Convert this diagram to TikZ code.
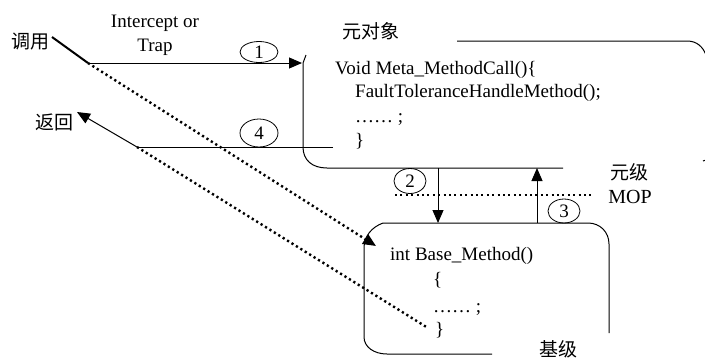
\documentclass[tikz,border=0pt]{standalone}
\usepackage{fontspec}
\setmainfont{Liberation Serif}
\newfontfamily\cjk{Noto Sans CJK SC}
\usetikzlibrary{arrows.meta,shapes.geometric}
\begin{document}
\begin{tikzpicture}[x=1pt,y=-1pt,
  code/.style={anchor=base west,inner sep=0pt,font=\fontsize{19}{22}\selectfont},
  plain/.style={inner sep=0pt,font=\fontsize{19}{22}\selectfont},
  cjklabel/.style={inner sep=0pt,font=\cjk\fontsize{19}{22}\selectfont},
  num/.style={draw,ellipse,inner sep=0pt,line width=0.8pt,font=\fontsize{19}{20}\selectfont},
  ln/.style={line width=1pt},
  tip/.style={-{Triangle[length=13pt,width=11pt]}},
  dots/.style={line width=2.4pt,dash pattern=on 2.2pt off 3pt}]
\useasboundingbox (0,0) rectangle (705,360);

% coordinates
\coordinate (callA) at (52,37);
\coordinate (callB) at (88,63);
\coordinate (metaIn) at (302,63);
\coordinate (retA) at (137,147);
\coordinate (retEnd) at (333,147);
\coordinate (retTip) at (77,112);
\coordinate (baseIn) at (376,246);
\coordinate (baseEnd) at (428,328);
\coordinate (downA) at (438,168);
\coordinate (downB) at (438,223);
\coordinate (upA) at (537,223);
\coordinate (upB) at (537,168);
\coordinate (mopA) at (395,195);
\coordinate (mopB) at (593,195);

% labels
\node[cjklabel] (call) at (31,42) {调用};
\node[cjklabel] (ret) at (54,122) {返回};
\node[plain,anchor=base] (ic) at (155,27) {Intercept or};
\node[plain,anchor=base] (trap) at (155,51) {Trap};
\node[cjklabel] (metaobj) at (371,31) {元对象};
\node[cjklabel] (metalevel) at (629,172) {元级};
\node[inner sep=0pt,anchor=base,font=\fontsize{20}{22}\selectfont] (mop) at (630,203) {MOP};
\node[cjklabel] (baselevel) at (558,349) {基级};

% meta object text
\node[code] (m1) at (335,74) {Void Meta\_MethodCall()\{};
\node[code] (m2) at (355,97) {FaultToleranceHandleMethod();};
\node[code] (m3) at (355,122) {…… ;};
\node[code] (m4) at (355,146) {\}};

% base object text
\node[code] (b1) at (390,260) {int Base\_Method()};
\node[code] (b2) at (433,285) {\{};
\node[code] (b3) at (433,312) {…… ;};
\node[code] (b4) at (435,335) {\}};

% meta object box
\draw[ln] (306,55) -- (303,63) -- (303,147) .. controls (303,160) and (312,168) .. (327,168) -- (563,168);
\draw[ln] (457,41) -- (687,41) .. controls (697,41) and (703,47) .. (706,55);
\draw[ln] (703,161) -- (706,160);

% base object box
\draw[ln] (383,223) -- (588,223) .. controls (600,223) and (609,232) .. (609,244) -- (609,333);
\draw[ln] (383,223) .. controls (372,227) and (364,236) .. (364,248) -- (364,337) .. controls (364,347) and (374,354) .. (387,354) -- (492,354);

% call / return
\draw[line width=2pt] (callA) -- (callB);
\draw[ln,tip] (callB) -- (metaIn);
\draw[ln] (retEnd) -- (retA);
\draw[ln,tip] (retA) -- (retTip);

% dotted paths
\draw[dots,-{Triangle[length=13pt,width=11pt]}] (callB) -- (baseIn);
\draw[dots] (retA) -- (baseEnd);
\draw[line width=2pt,dash pattern=on 2pt off 3.4pt] (mopA) -- (mopB);

% meta/base arrows
\draw[ln,tip] (downA) -- (downB);
\draw[ln,tip] (upA) -- (upB);

% numbered ellipses
\node[num,minimum width=38,minimum height=21] (n1) at (259,52) {1};
\node[num,minimum width=38,minimum height=28] (n4) at (259,133) {4};
\node[num,minimum width=32,minimum height=25] (n2) at (410,181) {2};
\node[num,minimum width=32,minimum height=24] (n3) at (564,211) {3};
\end{tikzpicture}
\end{document}
